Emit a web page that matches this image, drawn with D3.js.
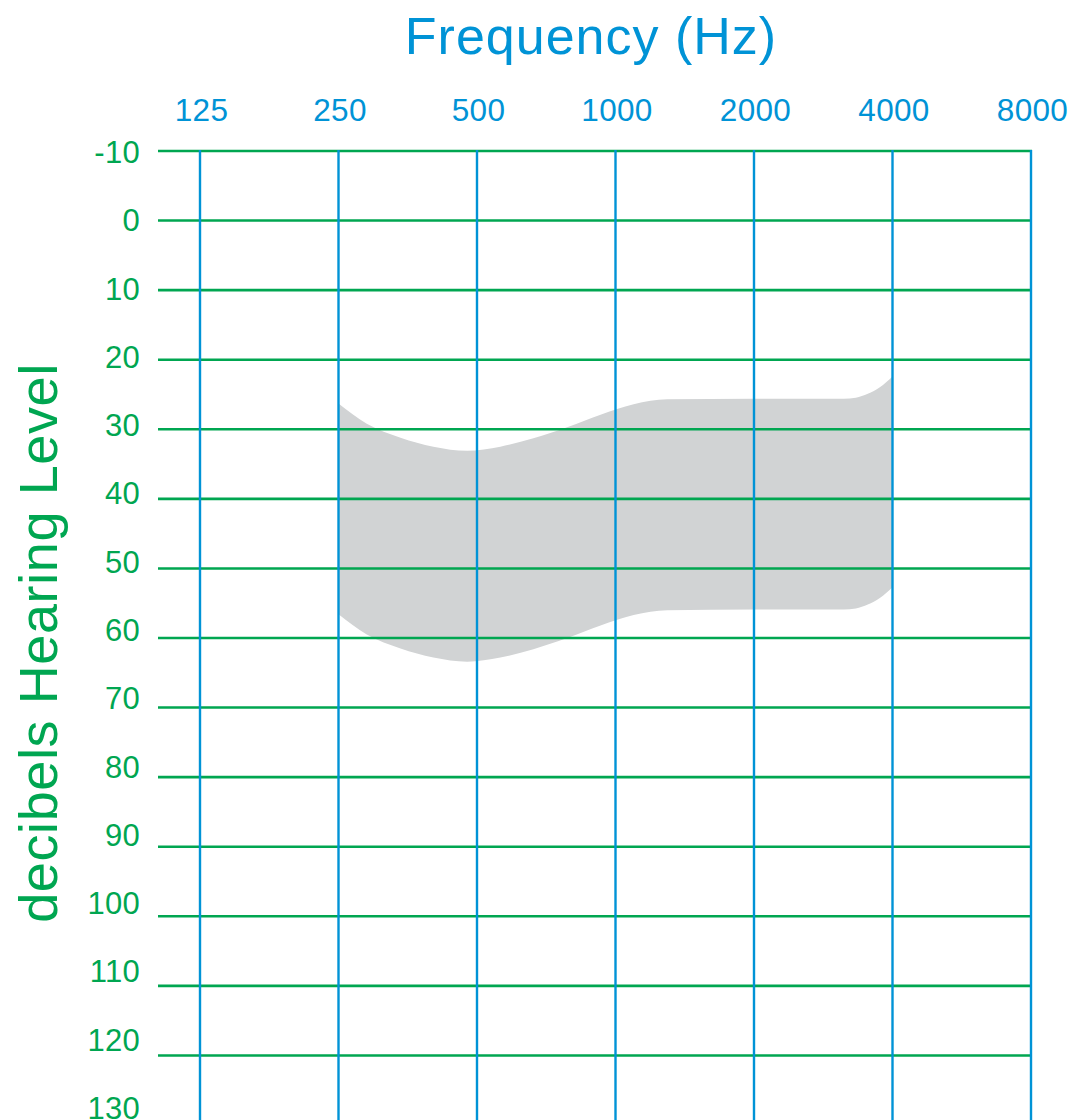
<!DOCTYPE html>
<html>
<head>
<meta charset="utf-8">
<script src="https://cdn.jsdelivr.net/npm/d3@7"></script>
<style>
  html, body { margin: 0; padding: 0; background: #ffffff; }
  svg { display: block; font-family: "Liberation Sans", Arial, Helvetica, sans-serif; }
</style>
</head>
<body>
<svg id="chart" width="1071" height="1120"></svg>
<script>
// ---- data ----
const frequencies = [125, 250, 500, 1000, 2000, 4000, 8000];
const frequencyLabels = ["125", "250", "500", "1000", "2000", "4000", "8000"];
const dbLevels = [-10, 0, 10, 20, 30, 40, 50, 60, 70, 80, 90, 100, 110, 120, 130];
const dbLabels = ["-10", "0", "10", "20", "30", "40", "50", "60", "70", "80", "90", "100", "110", "120", "130"];

// shaded band, frequency in Hz, level in dB HL
const bandFreq  = [250, 288, 341, 402, 476, 562, 663, 785, 928, 1095, 1296, 2000, 3135, 3329, 3535, 3754, 4000];
const bandUpper = [26.3, 29.2, 31.2, 32.5, 33.1, 32.5, 31.3, 29.7, 27.9, 26.4, 25.7, 25.6, 25.6, 25.45, 24.9, 23.95, 22.4];
const bandLower = [56.6, 59.5, 61.5, 62.8, 63.4, 62.8, 61.6, 60.0, 58.2, 56.7, 56.0, 55.9, 55.9, 55.75, 55.2, 54.25, 52.7];

const xTitle = "Frequency (Hz)";
const yTitle = "decibels Hearing Level";

// ---- styles ----
const BLUE = "#0093d6";
const GREEN = "#00a651";
const GRAY = "#d1d3d4";

const svg = d3.select("#chart");

const x = d3.scaleLog().base(2).domain([125, 8000]).range([200, 1031]);
const y = d3.scaleLinear().domain([-10, 130]).range([151, 1125]);
const yLab = d3.scaleLinear().domain([-10, 130]).range([152, 1108]);

// band
const band = bandFreq.map((f, i) => ({ f, top: bandUpper[i], bot: bandLower[i] }));
const area = d3.area()
  .curve(d3.curveMonotoneX)
  .x(d => x(d.f))
  .y0(d => y(d.bot))
  .y1(d => y(d.top));
svg.append("path").datum(band).attr("d", area).attr("fill", GRAY);

// horizontal grid (green)
svg.append("g").selectAll("line").data(dbLevels).join("line")
  .attr("x1", 158).attr("x2", x(8000) + 1)
  .attr("y1", d => y(d)).attr("y2", d => y(d))
  .attr("stroke", GREEN).attr("stroke-width", 2.6);

// vertical grid (blue)
svg.append("g").selectAll("line").data(frequencies).join("line")
  .attr("x1", d => x(d)).attr("x2", d => x(d))
  .attr("y1", y(-10) - 1).attr("y2", y(130))
  .attr("stroke", BLUE).attr("stroke-width", 2.4);

// x tick labels
svg.append("g").selectAll("text").data(frequencies).join("text")
  .attr("x", d => x(d) + 1.5)
  .attr("y", 121)
  .attr("text-anchor", "middle")
  .attr("fill", BLUE)
  .attr("font-size", 31.5)
  .attr("letter-spacing", 0.3)
  .text((d, i) => frequencyLabels[i]);

// y tick labels
svg.append("g").selectAll("text").data(dbLevels).join("text")
  .attr("x", 140)
  .attr("y", d => yLab(d) + 11)
  .attr("text-anchor", "end")
  .attr("fill", GREEN)
  .attr("font-size", 31)
  .attr("letter-spacing", 0.3)
  .text((d, i) => dbLabels[i]);

// titles
svg.append("text")
  .attr("x", 591).attr("y", 54)
  .attr("text-anchor", "middle")
  .attr("fill", BLUE)
  .attr("font-size", 52)
  .attr("letter-spacing", 1)
  .text(xTitle);

svg.append("text")
  .attr("transform", "translate(57,643) rotate(-90)")
  .attr("text-anchor", "middle")
  .attr("fill", GREEN)
  .attr("font-size", 54)
  .attr("letter-spacing", 0.6)
  .text(yTitle);
</script>
</body>
</html>
